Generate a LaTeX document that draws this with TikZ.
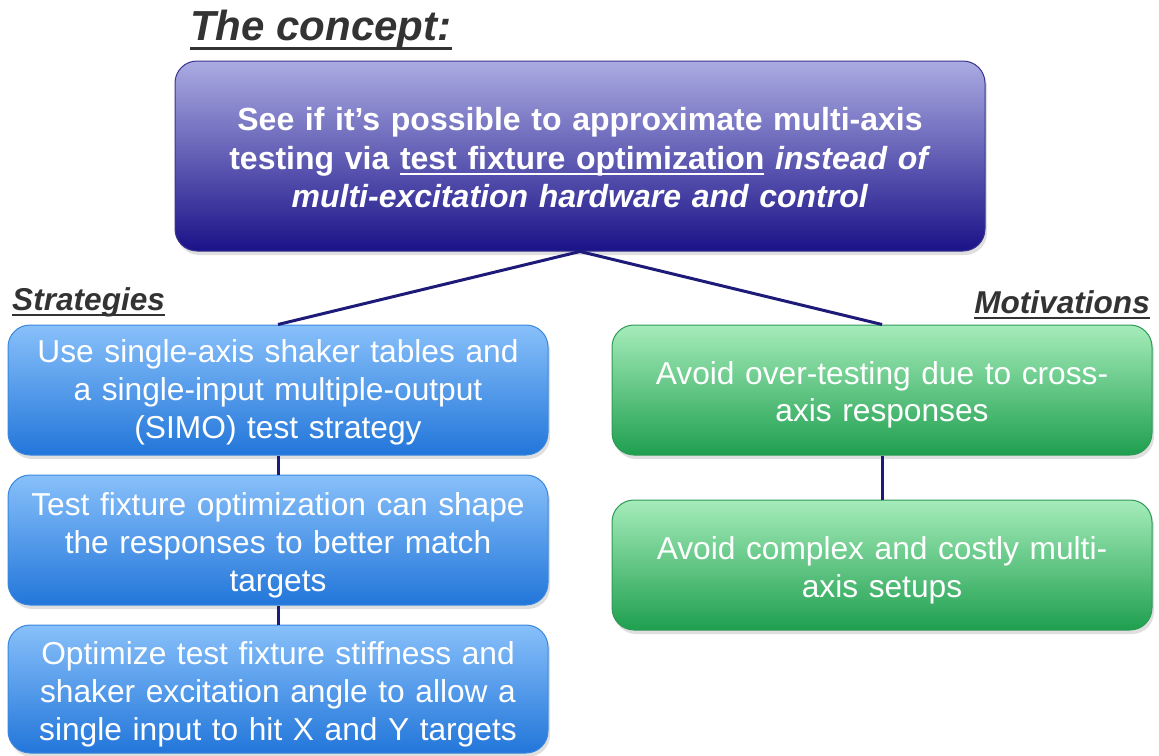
\documentclass[tikz,border=0pt]{standalone}
\usepackage{fontspec}
\setmainfont{Liberation Sans}
\usetikzlibrary{shadows}
\newsavebox{\myulbox}
\newcommand{\myuline}[3]{\sbox{\myulbox}{#3}\leavevmode\rlap{\rule[-#1]{\wd\myulbox}{#2}}\usebox{\myulbox}}
\newcommand{\mystrut}[1]{\rule{0pt}{#1}}
\definecolor{topT}{HTML}{ABABE2}
\definecolor{topB}{HTML}{1A1288}
\definecolor{topD}{HTML}{3A3490}
\definecolor{bluT}{HTML}{88C0FA}
\definecolor{bluB}{HTML}{2276DA}
\definecolor{bluD}{HTML}{3A88DE}
\definecolor{grnT}{HTML}{A5ECBA}
\definecolor{grnB}{HTML}{1F9F4F}
\definecolor{grnD}{HTML}{2E9A58}
\definecolor{lnk}{HTML}{1E1A78}
\definecolor{ttl}{HTML}{333333}
\tikzset{
  boxbase/.style={rounded corners=22pt, line width=1pt, text=white, align=center,
    inner sep=0pt, drop shadow={opacity=0.25, shadow xshift=2pt, shadow yshift=-4pt}},
  topbox/.style={boxbase, top color=topT, bottom color=topB, draw=topD,
    minimum width=810pt, minimum height=190pt, text width=780pt,
    font=\bfseries\fontsize{32}{38.5}\selectfont},
  bluebox/.style={boxbase, top color=bluT, bottom color=bluB, draw=bluD,
    minimum width=540pt, minimum height=130pt, text width=530pt,
    font=\fontsize{31.7}{38}\selectfont},
  greenbox/.style={boxbase, top color=grnT, bottom color=grnB, draw=grnD,
    minimum width=540pt, minimum height=130pt, text width=530pt,
    font=\fontsize{31.7}{37.5}\selectfont},
  heading/.style={text=ttl, inner sep=0pt, font=\bfseries\itshape\fontsize{31.6}{36}\selectfont},
  link/.style={draw=lnk, line width=3pt}
}
\begin{document}
\begin{tikzpicture}[x=1pt,y=-1pt]
\useasboundingbox (0,0) rectangle (1159,755);
\node[heading, anchor=base west, font=\bfseries\itshape\fontsize{42}{48}\selectfont] (title) at (190,40)
  {\myuline{10pt}{3pt}{The concept:}};
\node[topbox] (top) at (580,156) {\mystrut{27pt}See if it’s possible to approximate multi-axis\\
  testing via \myuline{6pt}{2pt}{test fixture optimization} \textit{instead of}\\
  \textit{multi-excitation hardware and control}};
\node[heading, anchor=base west] (strat) at (12,310) {\myuline{6pt}{2.5pt}{Strategies}};
\node[heading, anchor=base east] (motiv) at (1150,313) {\myuline{6pt}{2.5pt}{Motivations}};
\node[bluebox] (s1) at (278,390) {\mystrut{28pt}Use single-axis shaker tables and\\ a single-input multiple-output\\ (SIMO) test strategy};
\node[bluebox] (s2) at (278,540) {\mystrut{33pt}Test fixture optimization can shape\\ the responses to better match\\ targets};
\node[bluebox, minimum height=128pt] (s3) at (278,689) {\mystrut{34pt}Optimize test fixture stiffness and\\ shaker excitation angle to allow a\\ single input to hit X and Y targets};
\node[greenbox] (m1) at (882,390) {\mystrut{33pt}Avoid over-testing due to cross-\\ axis responses};
\node[greenbox] (m2) at (882,565) {\mystrut{34pt}Avoid complex and costly multi-\\ axis setups};
\draw[link] (top.south) -- (s1.north);
\draw[link] (top.south) -- (m1.north);
\draw[link] (s1.south) -- (s2.north);
\draw[link] (s2.south) -- (s3.north);
\draw[link] (m1.south) -- (m2.north);
\end{tikzpicture}
\end{document}
